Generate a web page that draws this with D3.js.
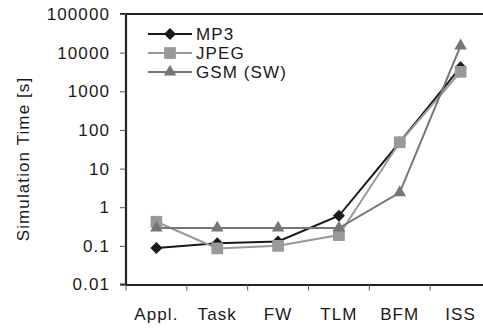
<!DOCTYPE html>
<html>
<head>
<meta charset="utf-8">
<script src="https://cdn.jsdelivr.net/npm/d3@7"></script>
<style>
  body { margin:0; background:#fff; }
  svg text { font-family: "Liberation Sans", Arial, sans-serif; fill:#1a1a1a; }
</style>
</head>
<body>
<svg id="chart" width="483" height="328"></svg>
<script>
// datos
const categories = ["Appl.", "Task", "FW", "TLM", "BFM", "ISS"];
const mp3  = [0.088, 0.117, 0.13, 0.6, 48, 4200];
const jpeg = [0.42, 0.086, 0.1, 0.19, 48, 3200];
const gsm  = [0.29, 0.29, 0.29, 0.29, 2.4, 15000];
const yTicks = [0.01, 0.1, 1, 10, 100, 1000, 10000, 100000];
const yTickLabels = ["0.01", "0.1", "1", "10", "100", "1000", "10000", "100000"];

const series = [
  { name: "MP3", values: mp3, color: "#1a1a1a", symbol: d3.symbolDiamond2, size: 92 },
  { name: "JPEG", values: jpeg, color: "#999999", symbol: d3.symbolSquare2, size: 175 },
  { name: "GSM (SW)", values: gsm, color: "#767676", symbol: d3.symbolTriangle2, size: 112 }
];

const svg = d3.select('#chart');
const mLeft = 126, mTop = 14, mRight = 491, mBottom = 284.5;

const x = d3.scaleBand().domain(categories).range([mLeft, mRight]);
const y = d3.scaleLog().domain([0.01, 100000]).range([mBottom, mTop]);

// ejes
const yAxis = svg.append('g').attr('transform', `translate(${mLeft},0)`)
  .call(d3.axisLeft(y).tickValues(yTicks).tickFormat((d, i) => yTickLabels[i]).tickSize(6).tickPadding(10));
const xAxis = svg.append('g').attr('transform', `translate(0,${mBottom})`)
  .call(d3.axisBottom(x).tickSize(0).tickPadding(23));
// marcas entre categorías
xAxis.selectAll('.sep').data(categories).enter().append('line')
  .attr('class', 'sep')
  .attr('x1', d => x(d)).attr('x2', d => x(d))
  .attr('y1', 0).attr('y2', 6)
  .attr('stroke', '#555').attr('stroke-width', 1);

[yAxis, xAxis].forEach(a => {
  a.select('.domain').attr('stroke', '#222').attr('stroke-width', 2.2);
  a.selectAll('.tick line').attr('stroke', '#555');
  a.selectAll('text').attr('font-size', 17).style('letter-spacing', '1.1px').attr('fill', '#1a1a1a');
});
yAxis.select('.domain').attr('d', `M-6,${mTop}H0V${mBottom}H-6`);

// borde superior
svg.append('line').attr('x1', mLeft).attr('x2', 483).attr('y1', mTop).attr('y2', mTop)
  .attr('stroke', '#222').attr('stroke-width', 2.2);

svg.append('text')
  .attr('transform', `translate(29,159) rotate(-90)`)
  .attr('text-anchor', 'middle')
  .attr('font-size', 17).style('letter-spacing', '1.1px')
  .text('Simulation Time [s]');

const line = d3.line()
  .x((d, i) => x(categories[i]) + x.bandwidth() / 2)
  .y(d => y(d));

// MP3 abajo, GSM encima
series.forEach(s => {
  svg.append('path').datum(s.values)
    .attr('d', line).attr('fill', 'none')
    .attr('stroke', s.color).attr('stroke-width', 2);
});
series.forEach(s => {
  svg.selectAll(null).data(s.values).enter().append('path')
    .attr('transform', (d, i) => `translate(${x(categories[i]) + x.bandwidth() / 2},${y(d)})`)
    .attr('d', d3.symbol().type(s.symbol).size(s.size))
    .attr('fill', s.color);
});

// leyenda
const lg = svg.append('g').attr('transform', 'translate(148,34)');
series.forEach((s, i) => {
  const row = lg.append('g').attr('transform', `translate(0,${i * 19})`);
  row.append('line').attr('x1', 0).attr('x2', 44).attr('stroke', s.color).attr('stroke-width', 2);
  row.append('path').attr('transform', 'translate(22,0)')
    .attr('d', d3.symbol().type(s.symbol).size(s.size)).attr('fill', s.color);
  row.append('text').attr('x', 48).attr('dy', '0.36em')
    .attr('font-size', 17).style('letter-spacing', '1.1px').text(s.name);
});
</script>
</body>
</html>
